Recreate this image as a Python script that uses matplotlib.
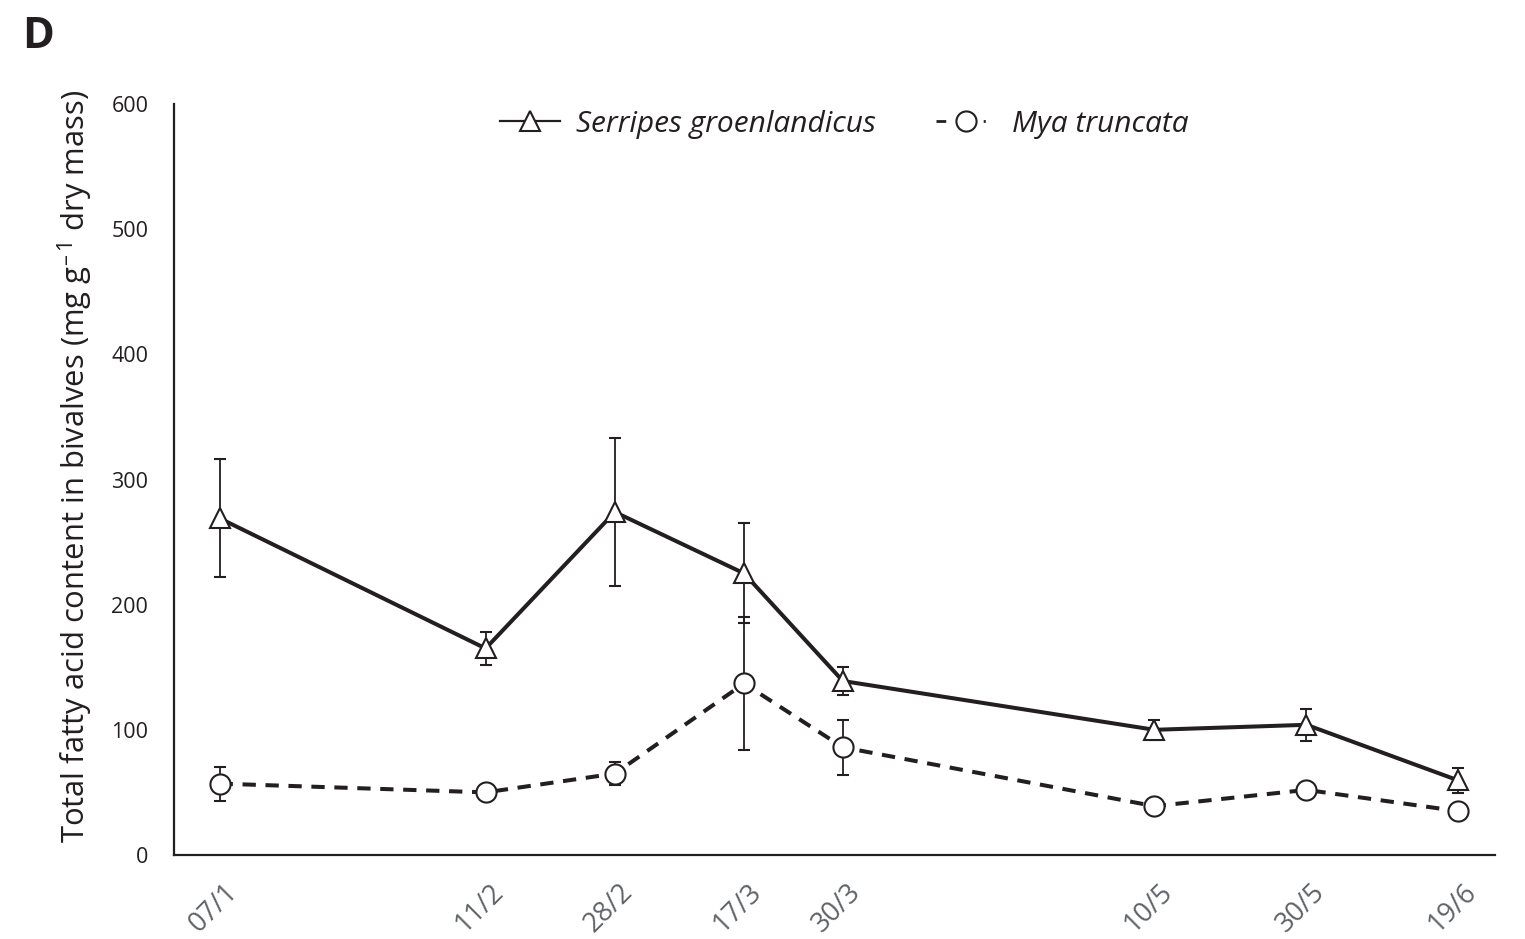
import matplotlib
matplotlib.use("Agg")
import matplotlib.pyplot as plt
from matplotlib.lines import Line2D
from matplotlib.transforms import ScaledTranslation

# Sampling dates (day of year) and their labels
sample_day = [7, 42, 59, 76, 89, 130, 150, 170]
date_labels = ["07/1", "11/2", "28/2", "17/3", "30/3", "10/5", "30/5", "19/6"]

# Total fatty acid content (mg g-1 dry mass), mean and error
serripes_mean = [269, 165, 274, 225, 139, 100, 104, 59.5]
serripes_err = [47, 13, 59, 40, 11.5, 8, 13, 10]
mya_mean = [57, 50, 65, 137, 86, 39, 52, 35]
mya_err = [13.5, 0, 9, 53, 22, 0, 0, 0]

y_ticks = [0, 100, 200, 300, 400, 500, 600]

plt.rcParams["font.family"] = ["Open Sans", "DejaVu Sans"]
plt.rcParams["mathtext.fontset"] = "custom"
plt.rcParams["mathtext.rm"] = "Open Sans"
plt.rcParams["mathtext.default"] = "regular"
ink = "#231f20"

fig = plt.figure(figsize=(15.25, 9.39), dpi=100)
ax = fig.add_axes([0.1141, 0.0895, 0.8662, 0.7997])

common = dict(color=ink, ecolor=ink, elinewidth=1.3, capsize=4, capthick=1.3,
              markerfacecolor="white", markeredgecolor=ink, markeredgewidth=1.5)

ax.errorbar(sample_day, serripes_mean, yerr=serripes_err, fmt="-", marker="^",
            markersize=14, linewidth=2.9, zorder=3, **common)
ax.errorbar(sample_day, mya_mean, yerr=mya_err, fmt="--", marker="o",
            markersize=14.5, linewidth=2.9, dashes=(3.3, 2.4), zorder=3, **common)

ax.set_xlim(1, 174.8)
ax.set_ylim(0, 600)
ax.set_yticks(y_ticks)
ax.set_yticklabels([str(v) for v in y_ticks], fontsize=15.5, color=ink)
ax.set_xticks(sample_day)
ax.set_xticklabels(date_labels, rotation=45, ha="center", va="top",
                   fontsize=19.5, color="#5f6366")
ax.tick_params(axis="both", length=0)
ax.tick_params(axis="y", pad=18.5)
ax.tick_params(axis="x", pad=16.5)
shift = ScaledTranslation(-6 / 100, 0, fig.dpi_scale_trans)
for lab in ax.get_xticklabels():
    lab.set_transform(lab.get_transform() + shift)

for side in ("top", "right"):
    ax.spines[side].set_visible(False)
for side in ("left", "bottom"):
    ax.spines[side].set_linewidth(1.6)
    ax.spines[side].set_color(ink)

ax.set_ylabel("Total fatty acid content in bivalves (mg g$^{\u2013\u20091}$ dry mass)",
              fontsize=22.3, color=ink)
ax.yaxis.set_label_coords(-0.060, 0.517)

# Legend along the top of the plot
h1 = Line2D([], [], color=ink, linewidth=1.6, marker="^", markersize=14,
            markerfacecolor="white", markeredgecolor=ink, markeredgewidth=1.5)
h2 = Line2D([], [], color=ink, linewidth=2.0, linestyle=(0, (3.5, 13.5, 0.75, 10)),
            marker="o", markersize=14.5, markerfacecolor="white",
            markeredgecolor=ink, markeredgewidth=1.5)
leg = ax.legend([h1, h2], ["Serripes groenlandicus", "Mya truncata"], ncol=2,
                loc="center", bbox_to_anchor=(0.5075, 0.9734), frameon=False,
                handlelength=2.0, handletextpad=0.55, columnspacing=2.0,
                prop={"size": 21.5, "style": "italic"})
for t in leg.get_texts():
    t.set_color(ink)

fig.text(22 / 1525, 1 - 48 / 939, "D", fontsize=31, fontweight="bold",
         color=ink, ha="left", va="baseline")

fig.savefig("out.png", dpi=100, facecolor="white")
